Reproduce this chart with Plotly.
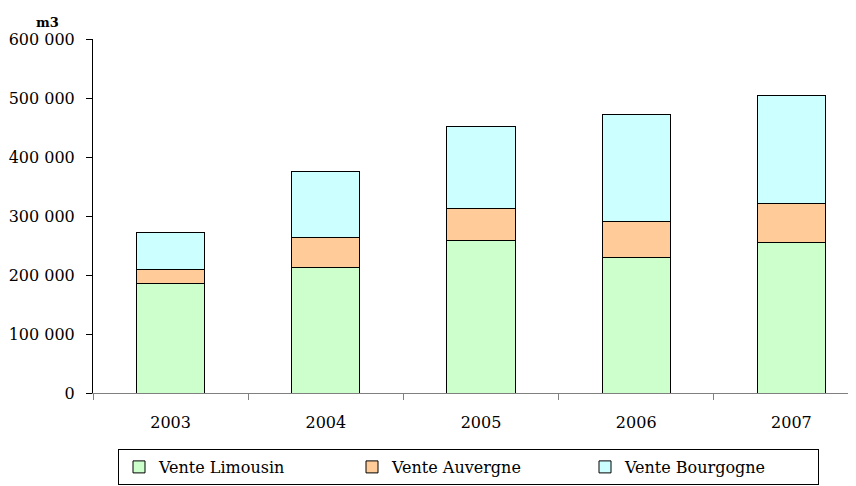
import plotly.graph_objects as go

years = ["2003", "2004", "2005", "2006", "2007"]
limousin = [186000, 213000, 259000, 230000, 255000]
auvergne = [24000, 50000, 53000, 60000, 66000]
bourgogne = [62000, 113000, 139000, 182000, 183000]
y_ticks = [0, 100000, 200000, 300000, 400000, 500000, 600000]

FONT = "DejaVu Serif"

fig = go.Figure()
series = [
    ("Vente Limousin", limousin, "#CCFFCC"),
    ("Vente Auvergne", auvergne, "#FFCC99"),
    ("Vente Bourgogne", bourgogne, "#CCFFFF"),
]
for name, vals, col in series:
    fig.add_trace(go.Bar(
        x=years, y=vals, name=name, width=0.44,
        marker=dict(color=col, line=dict(color="#000000", width=1)),
    ))

# page body has an 8px margin; figure sized to fit the 856x486 window
W, H = 848, 478
L, T, B = 85, 31, 93
PW = W - L
PH = H - T - B

fig.update_layout(
    width=W, height=H,
    barmode="stack",
    paper_bgcolor="white", plot_bgcolor="white",
    separators=", ",
    font=dict(family=FONT, size=16, color="#000000"),
    margin=dict(l=L, r=0, t=T, b=B, autoexpand=False),
    showlegend=True,
    legend=dict(
        orientation="h", x=(118 - 93) / PW, xanchor="left",
        y=(393 - 449) / PH, yanchor="top",
        bordercolor="#000000", borderwidth=1, bgcolor="white",
        entrywidth=188, entrywidthmode="pixels",
        font=dict(family=FONT, size=16),
        traceorder="normal",
    ),
    xaxis=dict(
        type="category", range=[-0.5, 4.416],
        showline=True, linecolor="#808080", linewidth=1,
        ticks="outside", tickson="boundaries", ticklen=6, tickcolor="#808080",
        showgrid=False, zeroline=False, ticklabelstandoff=15,
        tickfont=dict(family=FONT, size=16),
    ),
    yaxis=dict(
        range=[0, 600000], tickvals=y_ticks, tickformat=",d",
        showline=True, linecolor="#000000", linewidth=1,
        ticks="outside", ticklen=6, tickcolor="#000000",
        showgrid=False, zeroline=False, ticklabelstandoff=8,
        tickfont=dict(family=FONT, size=16),
    ),
)

fig.add_annotation(
    text="<b>m3</b>", xref="paper", yref="paper", x=0, y=1,
    xanchor="center", yanchor="middle", xshift=-46, yshift=17,
    showarrow=False, font=dict(family=FONT, size=13, color="#000000"),
)

fig.add_shape(
    type="rect", xref="paper", yref="paper",
    xsizemode="pixel", ysizemode="pixel", xanchor=0, yanchor=1,
    x0=-62, x1=-43, y0=36, y1=39,
    fillcolor="#000000", line=dict(width=0),
)

fig.write_html("out.html")
